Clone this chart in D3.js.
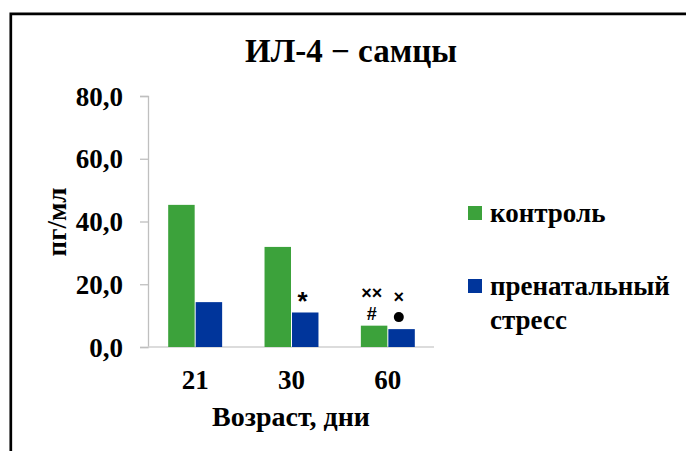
<!DOCTYPE html>
<html>
<head>
<meta charset="utf-8">
<script src="https://cdn.jsdelivr.net/npm/d3@7"></script>
<style>
  body { margin: 0; background: #fff; }
  text { font-family: "Liberation Serif", "Times New Roman", serif; font-weight: bold; fill: #000; }
</style>
</head>
<body>
<svg id="chart" width="686" height="451"></svg>
<script>
// data
const ages = ["21", "30", "60"];
const seriesNames = ["контроль", "пренатальный стресс"];
const control = [45.3, 31.9, 6.8];
const stress = [14.3, 11.0, 5.7];
const yTicks = [0, 20, 40, 60, 80];
// significance marks: [age, series index, labels from bar upwards]
const marks = [
    ["30", 1, ["*"]],
    ["60", 0, ["#", "××"]],
    ["60", 1, ["●", "×"]]
];

const colors = ["#3ca23b", "#00359b"];

const svg = d3.select("#chart");

// frame round the chart (only left and top edges are visible)
svg.append("path")
    .attr("d", "M10.8,451 V13.8 H686")
    .attr("fill", "none")
    .attr("stroke", "#000")
    .attr("stroke-width", 2.7);

svg.append("text")
    .attr("x", 351)
    .attr("y", 62)
    .attr("text-anchor", "middle")
    .style("font-size", "33px")
    .text("ИЛ-4 − самцы");

var y = d3.scaleLinear()
    .domain([0, 80])
    .range([347, 96]);

var x0 = d3.scaleBand()
    .domain(ages)
    .range([147, 436])
    .paddingInner(0.44)
    .paddingOuter(0.22);

var x1 = d3.scaleBand()
    .domain([0, 1])
    .range([0, x0.bandwidth()]);

// comma as decimal mark, as in the original
const ru = d3.formatLocale({ decimal: ",", thousands: " ", grouping: [3], currency: ["", ""] });

var yAxis = d3.axisLeft(y)
    .tickValues(yTicks)
    .tickSize(8)
    .tickPadding(17)
    .tickFormat(ru.format(".1f"));

var gy = svg.append("g")
    .attr("transform", "translate(148,0)")
    .call(yAxis);
gy.select(".domain").attr("stroke", "#bfbfbf").attr("stroke-width", 1.3);
gy.selectAll(".tick line").attr("stroke", "#bfbfbf").attr("stroke-width", 1.3);
gy.selectAll(".tick text")
    .attr("font-family", null)
    .attr("dy", "0.34em")
    .style("font-size", "27px");

var xAxis = d3.axisBottom(x0).tickSize(0).tickPadding(0);
var gx = svg.append("g")
    .attr("transform", "translate(0,347)")
    .call(xAxis);
gx.select(".domain")
    .attr("stroke", "#d0d0d0")
    .attr("stroke-width", 1.3)
    .attr("d", "M148,0H434");
gx.selectAll(".tick text")
    .attr("font-family", null)
    .attr("dy", null)
    .attr("y", 42)
    .style("font-size", "27px");

// bars
const values = [control, stress];
var groups = svg.append("g")
    .selectAll("g")
    .data(ages)
    .enter()
    .append("g")
    .attr("transform", d => "translate(" + x0(d) + ",0)");

groups.selectAll("rect")
    .data((d, i) => values.map((v, s) => ({ s: s, v: v[i] })))
    .enter()
    .append("rect")
    .attr("x", d => x1(d.s) + (d.s === 1 ? 0.5 : 0))
    .attr("width", d => x1.bandwidth() - 0.5)
    .attr("y", d => y(d.v))
    .attr("height", d => y(0) - y(d.v))
    .attr("fill", d => colors[d.s]);

// significance marks above the bars
const markG = svg.append("g");
marks.forEach(function(m) {
    var idx = ages.indexOf(m[0]);
    var v = values[m[1]][idx];
    var cx = x0(m[0]) + x1(m[1]) + x1.bandwidth() / 2 - 2.5;
    m[2].forEach(function(lbl, k) {
        var cy = y(v) - (lbl === "*" ? 17 : 12) - k * 21;
        if (lbl === "●") {
            markG.append("circle")
                .attr("cx", cx)
                .attr("cy", cy)
                .attr("r", 5)
                .attr("fill", "#000");
        } else {
            markG.append("text")
                .attr("x", cx)
                .attr("y", cy)
                .attr("dy", lbl === "*" ? "0.55em" : "0.36em")
                .attr("text-anchor", "middle")
                .style("font-family", "'Liberation Sans', Arial, sans-serif")
                .style("font-size", lbl === "*" ? "26px" : "18px")
                .text(lbl);
        }
    });
});

// y axis title
svg.append("text")
    .attr("transform", "translate(66,222) rotate(-90)")
    .attr("text-anchor", "middle")
    .style("font-size", "27px")
    .text("пг/мл");

svg.append("text")
    .attr("x", 291)
    .attr("y", 426)
    .attr("text-anchor", "middle")
    .style("font-size", "28px")
    .text("Возраст, дни");

// legend
const legendY = [206, 279];
var legend = svg.append("g")
    .selectAll("g")
    .data(seriesNames)
    .enter()
    .append("g")
    .attr("transform", (d, i) => "translate(468," + legendY[i] + ")");

legend.append("rect")
    .attr("width", 14)
    .attr("height", 14)
    .attr("fill", (d, i) => colors[i]);

legend.append("text")
    .attr("x", 22)
    .attr("y", 16)
    .style("font-size", "27px")
    .selectAll("tspan")
    .data(d => d.split(" "))
    .enter()
    .append("tspan")
    .attr("x", 22)
    .attr("dy", (d, i) => i === 0 ? 0 : 33.5)
    .text(d => d);
</script>
</body>
</html>
